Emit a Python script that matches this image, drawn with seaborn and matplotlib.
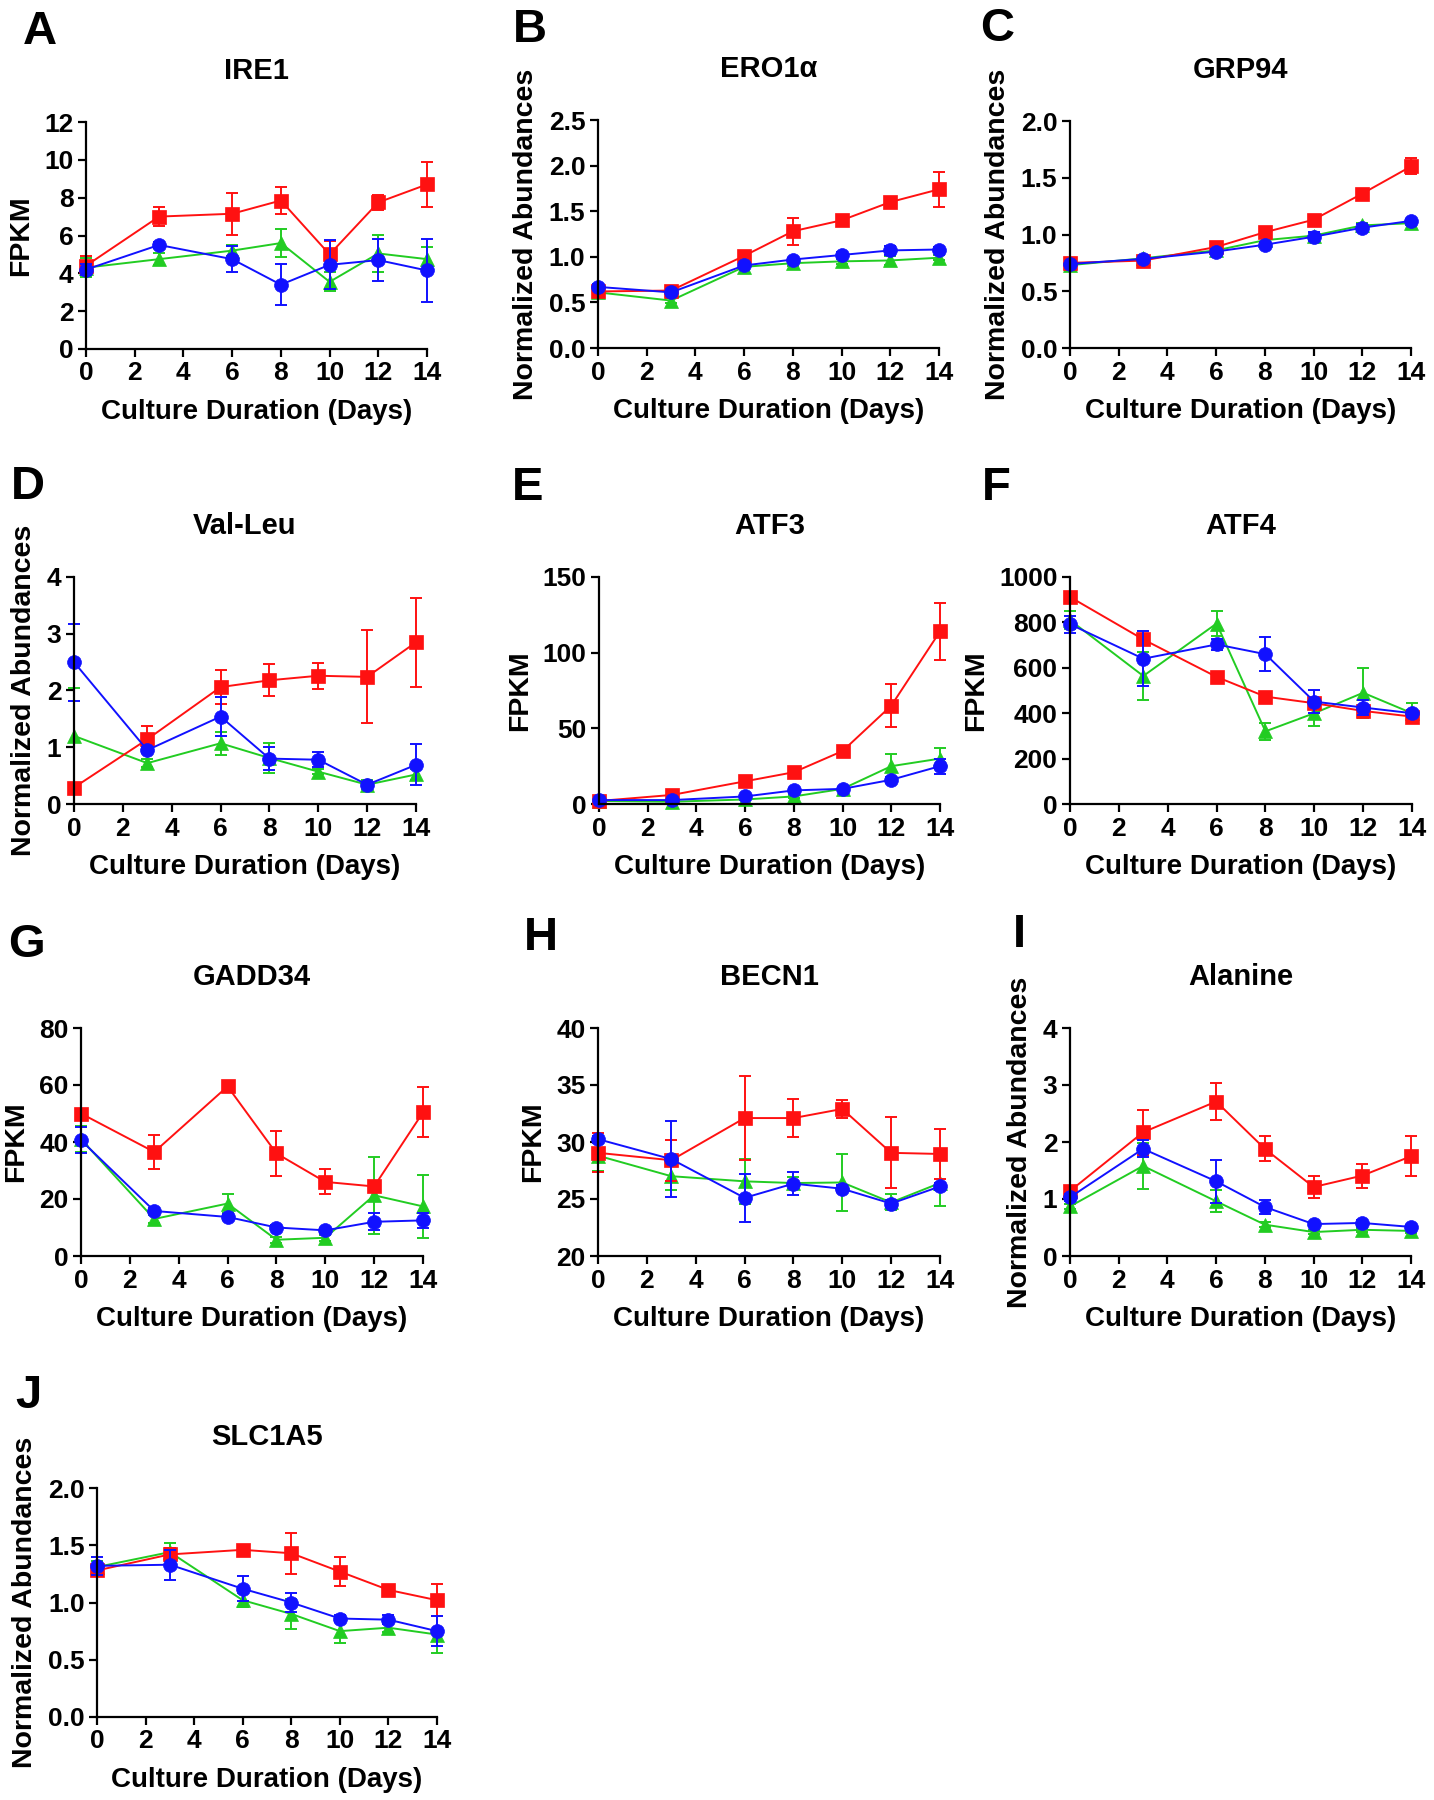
import matplotlib
matplotlib.use("Agg")
import matplotlib.pyplot as plt
import seaborn as sns

# --------------------------------------------------------------
# data (mean, error); g1 = red squares,
# g2 = green triangles, g3 = blue circles
# --------------------------------------------------------------
days = [0, 3, 6, 8, 10, 12, 14]

ire1_g1 = [4.4, 7.0, 7.15, 7.85, 5.0, 7.75, 8.7]
ire1_g1_err = [0.5, 0.5, 1.1, 0.7, 0.7, 0.4, 1.2]
ire1_g2 = [4.3, 4.75, 5.2, 5.6, 3.55, 5.05, 4.75]
ire1_g2_err = [0.5, 0.3, 0.3, 0.75, 0.5, 1.0, 0.65]
ire1_g3 = [4.2, 5.5, 4.75, 3.4, 4.45, 4.7, 4.15]
ire1_g3_err = [0.3, 0.15, 0.7, 1.1, 1.3, 1.1, 1.65]

ero1_g1 = [0.62, 0.63, 1.01, 1.28, 1.40, 1.60, 1.74]
ero1_g1_err = [0.03, 0.03, 0.04, 0.15, 0.04, 0.05, 0.19]
ero1_g2 = [0.61, 0.52, 0.89, 0.93, 0.95, 0.96, 0.99]
ero1_g2_err = [0.02, 0.03, 0.02, 0.03, 0.03, 0.05, 0.03]
ero1_g3 = [0.67, 0.61, 0.905, 0.97, 1.02, 1.07, 1.08]
ero1_g3_err = [0.03, 0.02, 0.02, 0.02, 0.03, 0.05, 0.03]

grp94_g1 = [0.75, 0.77, 0.89, 1.02, 1.13, 1.36, 1.60]
grp94_g1_err = [0.02, 0.02, 0.02, 0.02, 0.02, 0.03, 0.07]
grp94_g2 = [0.73, 0.79, 0.86, 0.95, 0.99, 1.08, 1.10]
grp94_g2_err = [0.01, 0.01, 0.02, 0.02, 0.02, 0.02, 0.02]
grp94_g3 = [0.74, 0.785, 0.85, 0.91, 0.98, 1.06, 1.12]
grp94_g3_err = [0.01, 0.01, 0.02, 0.02, 0.04, 0.03, 0.02]

valleu_g1 = [0.29, 1.14, 2.06, 2.18, 2.26, 2.24, 2.85]
valleu_g1_err = [0.05, 0.24, 0.30, 0.28, 0.23, 0.82, 0.78]
valleu_g2 = [1.2, 0.72, 1.07, 0.81, 0.57, 0.34, 0.52]
valleu_g2_err = [0.84, 0.07, 0.20, 0.27, 0.05, 0.08, 0.10]
valleu_g3 = [2.5, 0.95, 1.54, 0.8, 0.78, 0.34, 0.69]
valleu_g3_err = [0.68, 0.05, 0.35, 0.2, 0.13, 0.03, 0.36]

atf3_g1 = [2, 6, 15, 21, 35, 65, 114]
atf3_g1_err = [1, 1, 1.5, 1.5, 2, 14, 19]
atf3_g2 = [2, 1.5, 3, 5, 10, 25, 30]
atf3_g2_err = [0.5, 0.5, 0.5, 1, 1, 8, 7]
atf3_g3 = [2.6, 2.6, 5, 9, 10, 16, 25]
atf3_g3_err = [0.5, 0.5, 1, 1.5, 1.5, 2, 5]

atf4_g1 = [912, 725, 560, 473, 444, 410, 385]
atf4_g1_err = [15, 25, 12, 12, 15, 15, 20]
atf4_g2 = [810, 564, 795, 320, 400, 490, 400]
atf4_g2_err = [40, 105, 55, 38, 55, 110, 45]
atf4_g3 = [792, 640, 703, 660, 451, 425, 400]
atf4_g3_err = [38, 120, 25, 75, 50, 35, 15]

gadd34_g1 = [50, 36.5, 59.5, 36, 26, 24.4, 50.4]
gadd34_g1_err = [1, 6, 1, 8, 4.4, 2, 8.8]
gadd34_g2 = [41, 13, 18.4, 5.7, 6.4, 21.3, 17.4]
gadd34_g2_err = [4.5, 1.5, 3.3, 1, 1, 13.5, 11]
gadd34_g3 = [40.6, 15.8, 13.7, 10, 9, 12, 12.5]
gadd34_g3_err = [4.5, 1, 1, 1, 1, 3, 2.5]

becn1_g1 = [29.05, 28.4, 32.1, 32.1, 32.9, 29.05, 28.95]
becn1_g1_err = [1.7, 1.8, 3.65, 1.7, 0.8, 3.1, 2.2]
becn1_g2 = [28.8, 27.0, 26.55, 26.4, 26.45, 24.7, 26.4]
becn1_g2_err = [1.3, 1.2, 2.0, 0.5, 2.5, 0.7, 2.0]
becn1_g3 = [30.25, 28.5, 25.1, 26.35, 25.9, 24.6, 26.1]
becn1_g3_err = [0.3, 3.35, 2.1, 1.0, 0.3, 0.3, 0.3]

alanine_g1 = [1.14, 2.17, 2.71, 1.88, 1.21, 1.41, 1.75]
alanine_g1_err = [0.08, 0.39, 0.32, 0.22, 0.2, 0.21, 0.35]
alanine_g2 = [0.87, 1.58, 0.96, 0.55, 0.42, 0.46, 0.44]
alanine_g2_err = [0.05, 0.4, 0.19, 0.04, 0.04, 0.04, 0.04]
alanine_g3 = [1.03, 1.88, 1.31, 0.86, 0.56, 0.58, 0.51]
alanine_g3_err = [0.06, 0.15, 0.38, 0.13, 0.04, 0.05, 0.04]

slc1a5_g1 = [1.28, 1.42, 1.46, 1.43, 1.27, 1.11, 1.02]
slc1a5_g1_err = [0.03, 0.06, 0.03, 0.18, 0.13, 0.02, 0.14]
slc1a5_g2 = [1.31, 1.44, 1.02, 0.9, 0.75, 0.78, 0.72]
slc1a5_g2_err = [0.05, 0.08, 0.06, 0.13, 0.1, 0.04, 0.16]
slc1a5_g3 = [1.32, 1.33, 1.12, 1.0, 0.86, 0.85, 0.75]
slc1a5_g3_err = [0.08, 0.13, 0.11, 0.08, 0.03, 0.04, 0.13]

FPKM = "FPKM"
NORM = "Normalized Abundances"

# panel: letter, title, ylabel, ylim, yticks, series, axes box in px (left, top, right, bottom), letter pos
panels = [
    ("A", "IRE1", FPKM, (0, 12), [0, 2, 4, 6, 8, 10, 12],
     [(ire1_g2, ire1_g2_err), (ire1_g1, ire1_g1_err), (ire1_g3, ire1_g3_err)],
     (86, 122, 427, 349), (40, 32)),
    ("B", "ERO1α", NORM, (0, 2.5), [0.0, 0.5, 1.0, 1.5, 2.0, 2.5],
     [(ero1_g2, ero1_g2_err), (ero1_g1, ero1_g1_err), (ero1_g3, ero1_g3_err)],
     (598, 120, 939, 348), (530, 30)),
    ("C", "GRP94", NORM, (0, 2.0), [0.0, 0.5, 1.0, 1.5, 2.0],
     [(grp94_g2, grp94_g2_err), (grp94_g1, grp94_g1_err), (grp94_g3, grp94_g3_err)],
     (1070, 121, 1411, 348), (997, 29)),
    ("D", "Val-Leu", NORM, (0, 4), [0, 1, 2, 3, 4],
     [(valleu_g2, valleu_g2_err), (valleu_g1, valleu_g1_err), (valleu_g3, valleu_g3_err)],
     (74, 577, 416, 804), (28, 487)),
    ("E", "ATF3", FPKM, (0, 150), [0, 50, 100, 150],
     [(atf3_g2, atf3_g2_err), (atf3_g1, atf3_g1_err), (atf3_g3, atf3_g3_err)],
     (599, 577, 940, 804), (528, 488)),
    ("F", "ATF4", FPKM, (0, 1000), [0, 200, 400, 600, 800, 1000],
     [(atf4_g2, atf4_g2_err), (atf4_g1, atf4_g1_err), (atf4_g3, atf4_g3_err)],
     (1070, 577, 1412, 804), (996, 488)),
    ("G", "GADD34", FPKM, (0, 80), [0, 20, 40, 60, 80],
     [(gadd34_g2, gadd34_g2_err), (gadd34_g1, gadd34_g1_err), (gadd34_g3, gadd34_g3_err)],
     (81, 1028, 423, 1256), (26, 945)),
    ("H", "BECN1", FPKM, (20, 40), [20, 25, 30, 35, 40],
     [(becn1_g2, becn1_g2_err), (becn1_g1, becn1_g1_err), (becn1_g3, becn1_g3_err)],
     (598, 1028, 940, 1256), (541, 938)),
    ("I", "Alanine", NORM, (0, 4), [0, 1, 2, 3, 4],
     [(alanine_g2, alanine_g2_err), (alanine_g1, alanine_g1_err), (alanine_g3, alanine_g3_err)],
     (1070, 1028, 1411, 1256), (1019, 935)),
    ("J", "SLC1A5", NORM, (0, 2.0), [0.0, 0.5, 1.0, 1.5, 2.0],
     [(slc1a5_g2, slc1a5_g2_err), (slc1a5_g1, slc1a5_g1_err), (slc1a5_g3, slc1a5_g3_err)],
     (97, 1488, 437, 1717), (28, 1396)),
]

# green, red, blue (draw order matches the source: blue on top)
styles = [("#22CC22", "^"), ("#FF1111", "s"), ("#1111FF", "o")]

# ==============================================================
# plot
# ==============================================================
sns.set_style("ticks", {"axes.edgecolor": "black", "text.color": "black",
                        "axes.labelcolor": "black", "xtick.color": "black",
                        "ytick.color": "black"})
plt.rcParams['font.family'] = ['Liberation Sans', 'DejaVu Sans']
plt.rcParams['font.weight'] = 'bold'
plt.rcParams['axes.labelweight'] = 'bold'
plt.rcParams['axes.titleweight'] = 'bold'

W, H = 1434, 1800
fig = plt.figure(figsize=(W / 100, H / 100), dpi=100)

for letter, title, ylabel, ylim, yticks, series, box, lpos in panels:
    l, t, r, b = box
    ax = fig.add_axes([l / W, 1 - b / H, (r - l) / W, (b - t) / H])

    for (vals, err), (color, marker) in zip(series, styles):
        ax.errorbar(days, vals, yerr=err, fmt="none", ecolor=color,
                    elinewidth=1.4, capsize=4.5, capthick=1.4, clip_on=False)
        sns.lineplot(x=days, y=vals, ax=ax, color=color, marker=marker,
                     markersize=10, markeredgecolor=color, markeredgewidth=0.5,
                     linewidth=1.4, clip_on=False)

    ax.set_xlim(0, 14)
    ax.set_ylim(*ylim)
    ax.set_xticks([0, 2, 4, 6, 8, 10, 12, 14])
    ax.set_yticks(yticks)
    if isinstance(yticks[1], float):
        ax.set_yticklabels([f"{v:.1f}" for v in yticks])
    sns.despine(ax=ax)
    for s in ["left", "bottom"]:
        ax.spines[s].set_linewidth(1.6)
    ax.tick_params(width=1.6, length=6, labelsize=19, pad=3, colors="black")
    for lab in ax.get_xticklabels() + ax.get_yticklabels():
        lab.set_fontweight("bold")

    ax.set_xlabel("Culture Duration (Days)", fontsize=20, fontweight="bold", labelpad=10)
    ax.set_ylabel(ylabel, fontsize=20.5, fontweight="bold", labelpad=7)
    ax.set_title(title, fontsize=21, fontweight="bold", pad=31)

    fig.text(lpos[0] / W, 1 - lpos[1] / H, letter, fontsize=34, fontweight="bold",
             ha="center", va="center")

fig.savefig("out.png", dpi=100)
